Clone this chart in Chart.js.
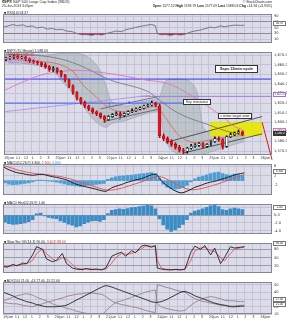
<!DOCTYPE html>
<html>
<head>
<meta charset="utf-8">
<script src="https://cdn.jsdelivr.net/npm/chart.js@4.4.1/dist/chart.umd.min.js"></script>
<style>
html, body { margin: 0; padding: 0; background: #fff; }
#wrap { position: relative; width: 287px; height: 320px; overflow: hidden; font-family: "Liberation Sans", sans-serif; color: #222; }
canvas { position: absolute; left: 0; }
.t { position: absolute; white-space: nowrap; font-size: 3.4px; line-height: 4px; z-index: 10; }
.r { text-align: right; }
.box { position: absolute; background: #fff; border: 1px solid #333; font-size: 4px; text-align: center; z-index: 10; white-space: nowrap; box-sizing: border-box; }
.val { position: absolute; left: 273px; width: 13px; height: 5px; line-height: 3px; font-size: 3px; background: #fff; border: 1px solid #777; box-sizing: border-box; text-align: center; z-index: 10; white-space: nowrap; overflow: hidden; }
</style>
</head>
<body>
<div id="wrap">
  <div class="t" style="left:2px;top:0px;font-size:3.8px"><b>$SPX</b> S&amp;P 500 Large Cap Index (INDX)</div>
  <div class="t" style="left:2px;top:4px">25-Jun-2013 3:45pm</div>
  <div class="t r" style="right:15px;top:0px">&copy; StockCharts.com</div>
  <div class="t r" style="right:15px;top:4px"><b>Open</b> 1577.52 <b>High</b> 1593.79 <b>Low</b> 1577.09 <b>Last</b> 1588.03 <b>Chg</b> +14.94 (+0.95%)</div>

  <div class="t" style="left:4px;top:10.5px">&#9632; RSI(14) 58.37</div>
  <div class="val" style="top:21px">58.37</div>

  <div class="t" style="left:4px;top:48.5px">&#9632; $SPX (15 Minute) 1,588.03</div>
  <div class="t" style="left:4px;top:52.5px;color:#d03030">&mdash; EMA(8) 1,585.62</div>
  <div class="t" style="left:4px;top:56.5px;color:#e070c0">&mdash; MA(200) 1,591.04</div>
  <div class="t" style="left:4px;top:60.5px;color:#a080c8">&mdash; MA(50) 1,586.90</div>
  <div class="val" style="top:92px;border-color:#a070d8">1,627.0</div>
  <div class="val" style="top:128px;border-color:#e070c8">1,591.0</div>
  <div class="val" style="top:131px;background:#333;color:#fff;border-color:#333">1,588.0</div>

  <div class="box" style="left:215px;top:65px;width:43px;height:8px;line-height:6px;font-weight:bold">$spx 15min cycle</div>
  <div class="box" style="left:183px;top:99px;width:28px;height:6px;line-height:4px;font-size:3.4px">Key resistance</div>
  <div class="box" style="left:218px;top:113px;width:34px;height:6px;line-height:4px;font-size:3.4px">c.minor target zone</div>
  <div class="t" style="left:108px;top:103px;color:#2233ee;font-size:4px">1</div>
  <div class="t" style="left:119px;top:117px;color:#2233ee;font-size:4px">2</div>
  <div class="t" style="left:128px;top:101px;color:#2233ee;font-size:4px">3</div>

  <div class="t" style="left:4px;top:160.5px">&#9632; MACD(12,26,9) 3.300, <span style="color:#d03030">2.500</span>, <span style="color:#3d95cf">0.800</span></div>
  <div class="val" style="top:169px">3.300</div>
  <div class="t" style="left:4px;top:200.5px">&#9632; MACD Hist(12,26,9) 1.40</div>
  <div class="val" style="top:205px">1.40</div>
  <div class="t" style="left:4px;top:239.5px">&#9632; Slow Sto %K(14,3) 90.00, <span style="color:#d03030">%D(3) 88.00</span></div>
  <div class="val" style="top:241px">90.00</div>
  <div class="t" style="left:4px;top:278.5px">&#9632; ADX(14) 21.00 +DI 27.00 -DI 22.00</div>
  <div class="val" style="top:297px">27.00</div>
  <div class="val" style="top:302px">21.00</div>

  <canvas id="rsi" width="287" height="37" style="top:10px;z-index:1"></canvas>
  <canvas id="price" width="287" height="122" style="top:48px;z-index:5"></canvas>
  <canvas id="macd" width="287" height="39" style="top:160px;z-index:2"></canvas>
  <canvas id="hist" width="287" height="38" style="top:200px;z-index:2"></canvas>
  <canvas id="sto" width="287" height="38" style="top:239px;z-index:2"></canvas>
  <canvas id="adx" width="287" height="42" style="top:278px;z-index:2"></canvas>
</div>

<script>
// x axis: 15 minute bars, 26 per day
const dayLabels = ['19Jun', '20Jun', '21Jun', '24Jun', '25Jun', '26Jun'];
const hourLabels = ['11', '12', '1', '2', '3'];
const hourOffsets = [6, 10, 14, 18, 22];
const barsPerDay = 26;
const lastBar = 136;

// price candles, one per half hour
const opens = [1666,1667,1668,1669,1667,1668,1666,1664,1663,1662,
  1660,1658,1655,1656,1653,1649,1644,1638,1631,1625,
  1621,1617,1614,1611,1609,1606,1603,1606,1608,1609,
  1607,1609,1611,1612,1614,1615,1617,1618,1620,1617,
  1586,1583,1580,1577,1574,1571,1570,1573,1575,1576,
  1578,1575,1579,1580,1583,1582,1575,1585,1587,1589,
  1590];
const closes = [1667,1668,1669,1667,1668,1666,1664,1663,1662,1660,
  1658,1655,1656,1653,1649,1644,1638,1631,1625,1621,
  1617,1614,1611,1609,1606,1603,1606,1608,1609,1607,
  1609,1611,1612,1614,1615,1617,1618,1620,1618,1586,
  1583,1580,1577,1574,1571,1570,1573,1575,1576,1578,
  1575,1577,1580,1583,1582,1575,1585,1587,1589,1590,
  1588];
const highs = [1668,1669,1670,1670,1669,1669,1667,1665,1664,1663,
  1662,1659,1658,1657,1654,1650,1645,1639,1632,1626,
  1622,1618,1615,1612,1610,1607,1607,1609,1611,1611,
  1610,1612,1614,1615,1616,1618,1619,1622,1621,1619,
  1588,1585,1582,1579,1576,1573,1574,1577,1578,1579,
  1579,1578,1581,1585,1585,1583,1586,1589,1590,1592,
  1591];
const lows = [1664,1665,1666,1666,1666,1664,1662,1661,1660,1658,
  1656,1653,1653,1651,1647,1642,1636,1629,1623,1619,
  1615,1612,1609,1607,1604,1600,1602,1605,1607,1605,
  1606,1608,1610,1611,1613,1614,1616,1617,1616,1584,
  1581,1578,1575,1572,1569,1567,1568,1572,1574,1575,
  1573,1574,1576,1579,1580,1572,1574,1584,1586,1588,
  1586];

// bollinger bands and moving averages
const bbX = [1,11,21,26,31,39,44,49,52,55,62,69,77,79,82,87,94,98,101,104.5,112,122];
const bbUpper = [1671,1671,1670,1671,1672,1671,1666,1653,1636,1621,1617,1621,1624,1626,1643,1645,1643,1631,1596,1589,1593,1595];
const bbLower = [1663,1661,1657,1651,1639,1621,1606,1597,1595,1599,1602,1607,1611,1609,1581,1568,1566,1566,1567,1569,1574,1580];
const pinkX = [0,8.5,18.5,29,39,49,59,72,82,89,94,99.5,106,112,116,122];
const pinkY = [1633,1641,1649,1653,1654,1652,1649,1644,1641,1635,1629,1622,1613,1604,1597,1591];
const grayMaX = [0,20,32,42,54,72,79,89,103,116,122];
const grayMaY = [1671,1669,1664,1656,1644,1633,1623,1609,1598,1589,1587];
const emaX = [0,13.5,27,35,40,47,52.5,59,71,77,79,84,89,96,103,111,119.5,122];
const emaY = [1666,1664,1661,1653,1639,1626,1616,1611,1614,1617,1613,1599,1586,1579,1581,1584,1586,1586];

// drawn lines on the price panel
const blueTopX = [0, 136], blueTopY = [1645, 1645];
const keyResX = [0, 91], keyResY = [1620, 1620];
const purpleRiseX = [0, 74], purpleRiseY = [1611, 1628];
const purpleFlatX = [69, 136], purpleFlatY = [1627, 1627];
const chan1TopX = [49, 79], chan1TopY = [1614, 1627];
const chan1BotX = [51, 79], chan1BotY = [1601, 1614];
const chan2TopX = [82, 131], chan2TopY = [1579, 1606];
const chan2BotX = [91, 131], chan2BotY = [1568, 1588];
const projX = [131, 136], projY = [1600, 1561];
const zoneX = [104.5, 131], zoneTop = [1600, 1600], zoneBot = [1586, 1586];

// indicators, sampled along the bars
const sampleX = [0,2,5,7,10,12,15,17,20,22,25,27,30,32,35,37,40,42,45,47,
  50,52,55,57,60,62,65,67,70,72,75,77,78,80,82,85,87,90,92,95,
  97,100,102,105,107,110,112,115,117,120,122];
const rsi = [52,55,61,57,60,54,56,49,52,45,47,43,44,38,36,30,25,26,23,27,
  24,29,34,38,36,43,47,51,55,58,61,57,29,25,26,23,27,24,27,35,
  38,42,46,52,49,56,53,57,59,58,58.37];
const macd = [6.0,5.0,4.0,3.4,3.0,2.6,2.3,2.5,2.7,2.3,1.7,1.4,0.8,0.4,-0.8,-1.5,-2.2,-2.6,-3.2,-3.6,
  -4.3,-4.5,-3.0,-2.4,-1.6,-0.9,-0.2,0.3,0.9,1.5,2.5,2.7,2.4,0.0,-1.5,-3.3,-4.3,-5.2,-4.8,-3.7,
  -2.8,-2.0,-1.3,-0.6,-0.3,0.5,1.0,1.8,2.4,3.0,3.3];
const signal = [6.5,6.0,5.2,4.6,4.0,3.6,3.2,2.9,2.7,2.6,2.2,2.0,1.6,1.2,0.5,-0.1,-0.9,-1.4,-2.2,-2.7,
  -3.5,-3.9,-4.0,-3.7,-3.2,-2.6,-1.9,-1.3,-0.5,0.1,1.1,1.6,1.8,1.6,1.0,-0.3,-1.2,-2.5,-3.2,-3.8,
  -3.8,-3.4,-3.0,-2.3,-1.8,-1.0,-0.4,0.5,1.1,2.0,2.5];
const stoK = [18,15,25,20,30,28,60,90,80,45,35,40,65,30,12,8,6,10,6,8,
  5,12,55,62,70,55,75,68,92,96,88,94,12,8,6,5,7,5,8,70,
  92,80,94,60,85,28,50,90,85,88,90];
const stoD = [20,17,20,22,25,28,40,65,82,65,45,38,50,45,25,12,8,8,8,7,
  7,8,30,50,65,62,65,70,82,92,92,92,40,12,8,6,6,6,7,40,
  75,85,88,75,72,50,38,65,80,86,88];
const adx = [40,38,35,32,29,27,25,23,21,20,20,20,21,22,26,29,33,36,40,43,
  47,49,47,45,42,40,37,35,32,30,27,26,26,27,29,33,36,40,41,38,
  35,32,30,27,25,23,22,20,20,20.5,21];
const plusDI = [28,30,33,35,37,38,36,33,30,28,24,22,20,18,16,14,12,11,10,10,
  9,14,22,26,28,30,33,35,38,40,42,43,24,20,18,16,15,14,15,22,
  26,30,32,34,33,31,29,28,28,27,27];
const minusDI = [26,25,24,24,22,21,20,22,24,26,28,30,32,34,36,37,38,39,39,38,
  37,34,28,25,23,22,20,19,17,15,13,12,50,49,47,45,43,41,40,34,
  31,28,27,25,24,22,22,21,21,22,22];

// histograms, one bar per half hour
const macdHist = [-1.0,-1.5,-1.7,-1.6,-1.4,-1.2,-1.0,-0.5,0.2,0.3,
  0.1,-0.2,-0.3,-0.6,-1.0,-1.4,-1.8,-2.0,-2.2,-2.4,
  -2.2,-1.9,-1.8,-1.6,-1.4,-1.2,0.6,1.2,1.6,1.9,
  2.1,2.3,2.4,2.6,2.8,3.0,3.2,3.4,3.0,1.0,
  -1.5,-2.8,-3.4,-3.6,-3.4,-3.0,-2.0,-0.5,0.8,1.5,
  2.0,2.5,3.0,3.4,3.6,3.0,2.6,2.4,2.8,2.6,
  2.4];
const lowHist = [-1.8,-2.2,-2.4,-2.3,-2.2,-2.0,-1.7,-1.2,0.3,0.5,
  -0.2,-0.6,-0.8,-0.9,-1.5,-1.9,-2.3,-2.6,-3.0,-2.8,
  -2.2,-1.8,-1.5,-1.4,-1.6,-1.2,0.4,1.2,1.4,1.6,
  1.5,1.7,1.9,2.0,2.2,2.3,2.5,2.4,1.6,-1.0,
  -2.5,-3.6,-4.2,-3.8,-3.2,-2.4,-1.2,0.5,1.0,1.3,
  1.6,2.0,2.4,2.6,2.2,1.4,1.2,1.6,1.8,1.6,
  1.4];

// axis ticks
const rsiTicks = [90, 70, 50, 30, 10];
const macdTicks = [6, 4, 2, 0, -2, -4];
const histTicks = [2, 1, 0, -1, -2, -3, -4];
const stoTicks = [80, 50, 20];
const adxTicks = [50, 40, 30, 20, 10];
const priceTickMin = 1570, priceTickMax = 1670, priceTickStep = 5;

const fontFam = '"DejaVu Sans", sans-serif';
const panelBg = '#dcdce8';
const gridCol = '#c4c4d6';
const lineGray = '#9a9aae';

const tickPos = [];
const tickText = [];
dayLabels.forEach((d, i) => {
  tickPos.push(i * barsPerDay); tickText.push(d);
  hourOffsets.forEach((o, k) => {
    if (i * barsPerDay + o < lastBar) { tickPos.push(i * barsPerDay + o); tickText.push(hourLabels[k]); }
  });
});
const priceTicks = [];
for (let v = priceTickMax; v >= priceTickMin; v -= priceTickStep) priceTicks.push(v);

const slotX = closes.map((c, j) => 2 * j + 1);

const panelPlugin = {
  id: 'panel',
  beforeDraw(c) {
    const a = c.chartArea, g = c.ctx;
    g.save();
    g.fillStyle = panelBg;
    g.fillRect(a.left, a.top, a.right - a.left, a.bottom - a.top);
    g.restore();
  },
  afterDraw(c) {
    const a = c.chartArea, g = c.ctx;
    g.save();
    g.strokeStyle = '#85859a';
    g.lineWidth = 1;
    g.strokeRect(Math.round(a.left) + 0.5, Math.round(a.top) + 0.5, Math.round(a.right - a.left) - 1, Math.round(a.bottom - a.top) - 1);
    g.restore();
  }
};

function xAxis(show) {
  return {
    type: 'linear', min: 0, max: lastBar, offset: false,
    grid: { color: gridCol, drawTicks: false, offset: false },
    border: { display: false },
    afterBuildTicks: s => { s.ticks = tickPos.map(v => ({ value: v })); },
    ticks: {
      display: show, autoSkip: false, maxRotation: 0, minRotation: 0, align: 'start', padding: 1,
      font: { size: 3.6, family: fontFam }, color: '#333',
      callback: (v, i) => tickText[i]
    },
    afterFit: s => { s.height = show ? 5 : 0; }
  };
}

function yAxis(min, max, ticks, fmt, gridColor) {
  return {
    position: 'right', min, max,
    grid: { color: gridColor || gridCol, drawTicks: false },
    border: { display: false },
    afterBuildTicks: s => { s.ticks = ticks.map(v => ({ value: v })); },
    ticks: { font: { size: 3.6, family: fontFam }, color: '#333', padding: 2, callback: fmt },
    afterFit: s => { s.width = 15; }
  };
}

function options(y, showX, padBottom) {
  return {
    responsive: false, animation: false, devicePixelRatio: 1,
    layout: { padding: { left: 3, right: 0, top: 0, bottom: padBottom } },
    plugins: { legend: { display: false }, tooltip: { enabled: false } },
    scales: { x: xAxis(showX), y: y }
  };
}

function line(xs, ys, color, width, extra) {
  return Object.assign({
    type: 'line', data: xs.map((x, i) => ({ x: x, y: ys[i] })),
    borderColor: color, borderWidth: width, pointRadius: 0, fill: false, tension: 0
  }, extra || {});
}

const isUp = i => closes[i] >= opens[i];

// RSI
new Chart(document.getElementById('rsi'), {
  type: 'line',
  data: { datasets: [
    line(sampleX, rsi, '#6e6e78', 0.9, {
      fill: { target: { value: 30 }, above: 'rgba(0,0,0,0)', below: '#c0104a' }
    })
  ] },
  options: options(yAxis(-3.4, 97.4, rsiTicks, v => String(v),
    ctx => (ctx.tick && (ctx.tick.value === 70 || ctx.tick.value === 30)) ? '#8c8ca0' : gridCol), false, 0),
  plugins: [panelPlugin]
});

// price
new Chart(document.getElementById('price'), {
  type: 'bar',
  data: { datasets: [
    { type: 'bar', data: slotX.map((x, j) => ({ x: x, y: [opens[j], closes[j]] })),
      backgroundColor: ctx => isUp(ctx.dataIndex) ? '#ffffff' : '#e8141c',
      borderColor: ctx => isUp(ctx.dataIndex) ? '#111111' : '#b0000c',
      borderWidth: 0.6, borderSkipped: false, barThickness: 2.5, grouped: false, order: 0 },
    { type: 'bar', data: slotX.map((x, j) => ({ x: x, y: [lows[j], highs[j]] })),
      backgroundColor: ctx => isUp(ctx.dataIndex) ? '#111111' : '#c0000c',
      barThickness: 1, grouped: false, order: 1 },
    line(emaX, emaY, '#e06060', 0.8, { tension: 0.3, order: 2 }),
    line(pinkX, pinkY, '#e070c8', 0.9, { tension: 0.4, order: 3 }),
    line(grayMaX, grayMaY, '#707080', 0.8, { tension: 0.4, order: 3 }),
    line(blueTopX, blueTopY, '#3030ff', 1, { order: 4 }),
    line(keyResX, keyResY, '#4a5cff', 1, { order: 4 }),
    line(purpleRiseX, purpleRiseY, '#b090e0', 0.9, { order: 4 }),
    line(purpleFlatX, purpleFlatY, '#a070d8', 0.9, { order: 4 }),
    line(chan1TopX, chan1TopY, '#555566', 0.8, { order: 4 }),
    line(chan1BotX, chan1BotY, '#555566', 0.8, { order: 4 }),
    line(chan2TopX, chan2TopY, '#333340', 0.8, { order: 4 }),
    line(chan2BotX, chan2BotY, '#333340', 0.8, { order: 4 }),
    line(projX, projY, '#e01818', 1, { order: 4, clip: false, pointRadius: [0, 1.5], pointBackgroundColor: '#e01818', pointBorderWidth: 0 }),
    line(zoneX, zoneTop, '#d8d800', 0.5, { fill: '+1', backgroundColor: 'rgba(232,232,0,0.9)', order: 8 }),
    line(zoneX, zoneBot, '#d8d800', 0.5, { order: 8 }),
    line(bbX, bbUpper, lineGray, 0.6, { fill: '+1', backgroundColor: 'rgba(150,168,168,0.45)', tension: 0.35, order: 9 }),
    line(bbX, bbLower, lineGray, 0.6, { tension: 0.35, order: 9 })
  ] },
  options: options(yAxis(1566, 1673, priceTicks,
    v => v.toLocaleString('en-US', { minimumFractionDigits: 1, maximumFractionDigits: 1 }),
    ctx => (ctx.tick && ctx.tick.value % 10 === 0) ? gridCol : 'rgba(0,0,0,0)'), true, 10),
  plugins: [panelPlugin]
});

// MACD
new Chart(document.getElementById('macd'), {
  type: 'bar',
  data: { datasets: [
    line(sampleX, macd, '#202028', 1, { tension: 0.3, order: 0 }),
    line(sampleX, signal, '#e05858', 1, { tension: 0.3, order: 1 }),
    { type: 'bar', data: slotX.map((x, j) => ({ x: x, y: macdHist[j] })),
      backgroundColor: '#4d9ed2', barThickness: 3, grouped: false, order: 2 }
  ] },
  options: options(yAxis(-6, 7, macdTicks, v => String(v),
    ctx => (ctx.tick && ctx.tick.value === 0) ? '#9a9ab0' : gridCol), false, 0),
  plugins: [panelPlugin]
});

// histogram panel
new Chart(document.getElementById('hist'), {
  type: 'bar',
  data: { datasets: [
    { type: 'bar', data: slotX.map((x, j) => ({ x: x, y: lowHist[j] })),
      backgroundColor: '#3a8cc6', barThickness: 3, grouped: false }
  ] },
  options: options(yAxis(-4.8, 2.8, histTicks, v => v.toFixed(1),
    ctx => (ctx.tick && ctx.tick.value === 0) ? '#9a9ab0' : gridCol), false, 0),
  plugins: [panelPlugin]
});

// slow stochastic
new Chart(document.getElementById('sto'), {
  type: 'line',
  data: { datasets: [
    line(sampleX, stoK, '#202028', 0.9),
    line(sampleX, stoD, '#e05858', 0.9)
  ] },
  options: options(yAxis(-5.7, 102.9, stoTicks, v => String(v), '#9a9ab0'), false, 0),
  plugins: [panelPlugin]
});

// ADX
new Chart(document.getElementById('adx'), {
  type: 'line',
  data: { datasets: [
    line(sampleX, adx, '#202028', 0.9, { tension: 0.3 }),
    line(sampleX, plusDI, '#8a8a96', 0.9),
    line(sampleX, minusDI, '#a07890', 0.9)
  ] },
  options: options(yAxis(10, 53.75, adxTicks, v => String(v)), true, 1),
  plugins: [panelPlugin]
});
</script>
</body>
</html>
